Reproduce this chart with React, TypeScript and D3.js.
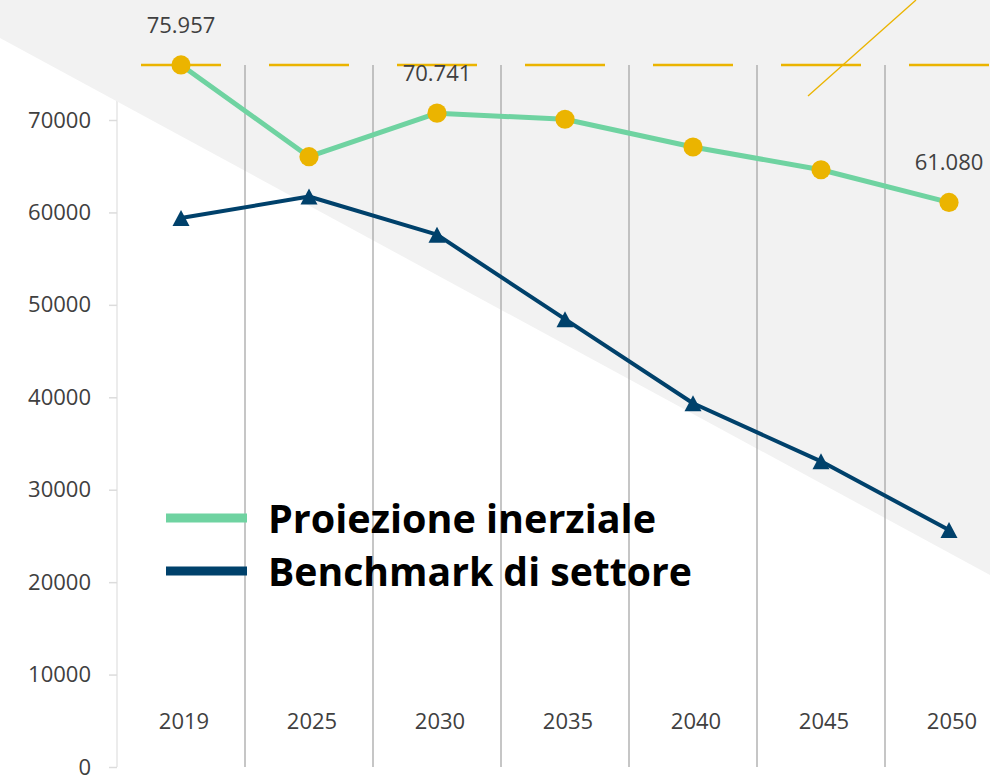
import React, { useEffect, useRef } from 'react';
import * as d3 from 'd3';

const years = ['2019', '2025', '2030', '2035', '2040', '2045', '2050'];
const inerziale = [75957, 66030, 70741, 70080, 67080, 64620, 61080];
const benchmark = [59400, 61720, 57590, 48450, 39350, 33070, 25640];
const yTicks = [0, 10000, 20000, 30000, 40000, 50000, 60000, 70000];
const labelledYears = ['2019', '2030', '2050'];
const seriesNames = ['Proiezione inerziale', 'Benchmark di settore'];

const GOLD = '#ebb400';
const GREEN = '#6fd3a1';
const BLUE = '#00416b';
const TEXT = '#404040';

export default function App() {
  const svgRef = useRef<SVGSVGElement>(null);

  useEffect(() => {
    if (!svgRef.current) return;
    const svg = d3.select(svgRef.current);
    svg.selectAll('*').remove();

    const width = 990;
    const left = 117;

    const x = d3.scaleBand<string>().domain(years).range([left, left + 128 * years.length]);
    const y = d3.scaleLinear().domain([0, 70000]).range([767, 120]);
    const cx = (d: string) => (x(d) ?? 0) + x.bandwidth() / 2;
    const maxVal = d3.max(inerziale) ?? 0;

    // axis line (sits under the grey wedge)
    svg.append('line')
      .attr('x1', left).attr('x2', left)
      .attr('y1', y(0)).attr('y2', 0)
      .attr('stroke', '#e6e6e6').attr('stroke-width', 1.5);

    // grey background wedge
    svg.append('path')
      .attr('d', `M0,0 L${width},0 L${width},575 L0,38 Z`)
      .attr('fill', '#f2f2f2');

    // y axis ticks + labels
    const yAxis = svg.append('g')
      .attr('transform', `translate(${left},0)`)
      .call(d3.axisLeft(y).tickValues(yTicks).tickSize(8).tickPadding(18).tickFormat(d3.format('d')));
    yAxis.select('.domain').remove();
    yAxis.selectAll('line').attr('stroke', '#dcdcdc').attr('stroke-width', 1.5);
    yAxis.selectAll('text')
      .attr('fill', TEXT)
      .style('font-family', '"Open Sans", sans-serif')
      .style('font-size', '22px');

    // vertical separators between categories
    svg.append('g')
      .selectAll('line')
      .data(years.slice(1))
      .enter()
      .append('line')
      .attr('x1', d => x(d) ?? 0).attr('x2', d => x(d) ?? 0)
      .attr('y1', y(maxVal)).attr('y2', y(0))
      .attr('stroke', '#a0a0a0').attr('stroke-width', 1.2);

    // dashed max reference line, one dash per category
    svg.append('g')
      .selectAll('line')
      .data(years)
      .enter()
      .append('line')
      .attr('x1', d => cx(d) - 40).attr('x2', d => cx(d) + 40)
      .attr('y1', y(maxVal)).attr('y2', y(maxVal))
      .attr('stroke', GOLD).attr('stroke-width', 2.5);

    // thin gold diagonal (decoration)
    svg.append('line')
      .attr('x1', 808).attr('y1', 96)
      .attr('x2', 916).attr('y2', 0)
      .attr('stroke', GOLD).attr('stroke-width', 1.3);

    const line = d3.line<number>()
      .x((_, i) => cx(years[i]))
      .y(d => y(d));

    // Proiezione inerziale
    svg.append('path')
      .datum(inerziale)
      .attr('d', line)
      .attr('fill', 'none')
      .attr('stroke', GREEN)
      .attr('stroke-width', 5)
      .attr('stroke-linejoin', 'round');

    svg.append('g')
      .selectAll('circle')
      .data(inerziale)
      .enter()
      .append('circle')
      .attr('cx', (_, i) => cx(years[i]))
      .attr('cy', d => y(d))
      .attr('r', 9.6)
      .attr('fill', GOLD);

    // Benchmark di settore
    svg.append('path')
      .datum(benchmark)
      .attr('d', line)
      .attr('fill', 'none')
      .attr('stroke', BLUE)
      .attr('stroke-width', 4)
      .attr('stroke-linejoin', 'round');

    svg.append('g')
      .selectAll('path')
      .data(benchmark)
      .enter()
      .append('path')
      .attr('d', (d, i) => {
        const px = cx(years[i]);
        const py = y(d);
        return `M${px},${py - 8} L${px + 8.5},${py + 8} L${px - 8.5},${py + 8} Z`;
      })
      .attr('fill', BLUE);

    // data labels
    const itFormat = d3.formatLocale({ decimal: ',', thousands: '.', grouping: [3], currency: ['€', ''] }).format(',d');
    svg.append('g')
      .selectAll('text')
      .data(years.map((yr, i) => ({ yr, v: inerziale[i] })).filter(d => labelledYears.includes(d.yr)))
      .enter()
      .append('text')
      .attr('x', d => cx(d.yr))
      .attr('y', d => y(d.v) - 32)
      .attr('text-anchor', 'middle')
      .attr('fill', TEXT)
      .style('font-family', '"Open Sans", sans-serif')
      .style('font-size', '22px')
      .text(d => itFormat(d.v));

    // category labels
    svg.append('g')
      .selectAll('text')
      .data(years)
      .enter()
      .append('text')
      .attr('x', d => cx(d) + 3)
      .attr('y', 729)
      .attr('text-anchor', 'middle')
      .attr('fill', TEXT)
      .style('font-family', '"Open Sans", sans-serif')
      .style('font-size', '22px')
      .text(d => d);

    // legend
    const legend = svg.append('g');
    const legendColors = [GREEN, BLUE];
    const legendLengths = [388, 424];
    seriesNames.forEach((name, i) => {
      const ly = 518 + i * 53;
      legend.append('line')
        .attr('x1', 166).attr('x2', 247)
        .attr('y1', ly).attr('y2', ly)
        .attr('stroke', legendColors[i]).attr('stroke-width', 9);
      legend.append('text')
        .attr('x', 268)
        .attr('y', ly + 15)
        .attr('fill', '#000')
        .attr('textLength', legendLengths[i])
        .attr('lengthAdjust', 'spacingAndGlyphs')
        .style('font-family', '"Open Sans", sans-serif')
        .style('font-weight', 700)
        .style('font-size', '40px')
        .text(name);
    });
  }, []);

  return (
    <svg
      ref={svgRef}
      width={990}
      height={777}
      style={{ position: 'absolute', left: 0, top: 0, background: '#fff' }}
    />
  );
}
